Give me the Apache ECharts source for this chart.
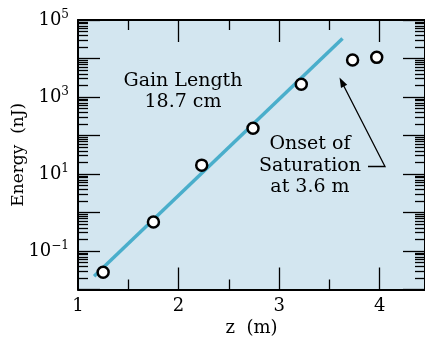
<!DOCTYPE html>
<html>
<head>
<meta charset="utf-8">
<script src="https://cdn.jsdelivr.net/npm/echarts@6/dist/echarts.min.js"></script>
<style>
html,body{margin:0;padding:0;background:#fff;}
#chart{width:425px;height:339px;}
</style>
</head>
<body>
<div id="chart"></div>
<script>
/// measured points, z in m, energy in nJ
var zPoints = [1.25, 1.75, 2.23, 2.74, 3.22, 3.73, 3.97];
var energyPoints = [0.028, 0.57, 17, 155, 2150, 9100, 10700];

/// exponential fit line (gain length 18.7 cm)
var fitZ = [1.16, 3.63];
var fitEnergy = [0.022, 33000];

/// axis ticks
var xLabels = [1, 2, 3, 4];
var xMajor = [2, 3, 4];
var xMinor = [1.5, 2.5, 3.5];
var yLabelExp = [-1, 1, 3, 5];
var yMajorExp = [-2, -1, 0, 1, 2, 3, 4, 5];

var FONT = 'DejaVu Serif';

function log10(v){ return Math.log(v) / Math.LN10; }

var yMinor = [];
for (var n = -2; n < 5; n++) {
	for (var k = 2; k <= 9; k++) yMinor.push(n + log10(k));
}

var pointData = [], fitData = [];
for (var i = 0; i < zPoints.length; i++) pointData.push([zPoints[i], log10(energyPoints[i])]);
for (var j = 0; j < fitZ.length; j++) fitData.push([fitZ[j], log10(fitEnergy[j])]);

function xAxisDef(pos, ticks, len, showLine, showLabel){
	return {
		type: 'value', position: pos, min: 1, max: 4.45,
		axisLine: {show: showLine, onZero: false, lineStyle: {color: '#000', width: 2}},
		axisTick: {show: true, inside: true, length: len, customValues: ticks, lineStyle: {color: '#000', width: 1.3}},
		axisLabel: {show: showLabel, customValues: xLabels, margin: 8, color: '#000', fontFamily: FONT, fontSize: 18},
		splitLine: {show: false}
	};
}
function yAxisDef(pos, ticks, len, showLine, showLabel){
	return {
		type: 'value', position: pos, min: -2, max: 5,
		axisLine: {show: showLine, onZero: false, lineStyle: {color: '#000', width: 2}},
		axisTick: {show: true, inside: true, length: len, customValues: ticks, lineStyle: {color: '#000', width: 1.3}},
		axisLabel: {
			show: showLabel, customValues: yLabelExp, margin: 9, color: '#000',
			formatter: function(v){ return '{b|10}{s|' + (v < 0 ? '\u2212' + (-v) : v) + '}'; },
			rich: {
				b: {fontFamily: FONT, fontSize: 18, color: '#000'},
				s: {fontFamily: FONT, fontSize: 12, color: '#000', padding: [0, 0, 10, 0]}
			}
		},
		splitLine: {show: false}
	};
}

var xAxes = [
	xAxisDef('bottom', xMajor, 22, true, true),
	xAxisDef('bottom', xMinor, 10, false, false),
	xAxisDef('top', xMajor, 22, true, false),
	xAxisDef('top', xMinor, 10, false, false)
];
xAxes[0].name = 'z  (m)';
xAxes[0].nameLocation = 'middle';
xAxes[0].nameGap = 30;
xAxes[0].nameMoveOverlap = false;
xAxes[0].nameTextStyle = {fontFamily: FONT, fontSize: 18, color: '#000'};

var yAxes = [
	yAxisDef('left', yMajorExp, 22, true, true),
	yAxisDef('left', yMinor, 10, false, false),
	yAxisDef('right', yMajorExp, 22, true, false),
	yAxisDef('right', yMinor, 10, false, false)
];
yAxes[0].name = 'Energy  (nJ)';
yAxes[0].nameLocation = 'middle';
yAxes[0].nameGap = 51;
yAxes[0].nameMoveOverlap = false;
yAxes[0].nameTextStyle = {fontFamily: FONT, fontSize: 17, color: '#000'};

var myChart = echarts.init(document.getElementById('chart'), null, {renderer: 'canvas'});
var option = {
	animation: false,
	backgroundColor: '#fff',
	grid: {
		left: 78, right: 0, top: 20, bottom: 49.5,
		show: true, backgroundColor: '#d3e6f0', borderWidth: 0,
		containLabel: false, outerBoundsMode: 'none'
	},
	xAxis: xAxes,
	yAxis: yAxes,
	series: [
		{
			type: 'line', data: fitData, symbol: 'none',
			lineStyle: {color: '#4aaecb', width: 3.5}, z: 2
		},
		{
			type: 'scatter', data: pointData, symbol: 'circle', symbolSize: 11,
			itemStyle: {color: '#fff', borderColor: '#000', borderWidth: 2.5, opacity: 1}, z: 3
		}
	],
	graphic: [
		{
			type: 'text', x: 183, y: 92, z: 10,
			style: {text: 'Gain Length\n18.7 cm', fontFamily: FONT, fontSize: 19, lineHeight: 21,
				fill: '#000', align: 'center', verticalAlign: 'middle'}
		},
		{
			type: 'text', x: 310, y: 166, z: 10,
			style: {text: 'Onset of\nSaturation\nat 3.6 m', fontFamily: FONT, fontSize: 19, lineHeight: 21.5,
				fill: '#000', align: 'center', verticalAlign: 'middle'}
		},
		{
			type: 'polyline', z: 10,
			shape: {points: [[368, 166.5], [385, 166.5], [342, 82.5]]},
			style: {stroke: '#000', lineWidth: 1.3, fill: null}
		},
		{
			type: 'polygon', z: 10,
			shape: {points: [[339.5, 77.5], [347.2, 84.8], [341.0, 88.0]]},
			style: {fill: '#000'}
		}
	]
};
myChart.setOption(option);
</script>
</body>
</html>
